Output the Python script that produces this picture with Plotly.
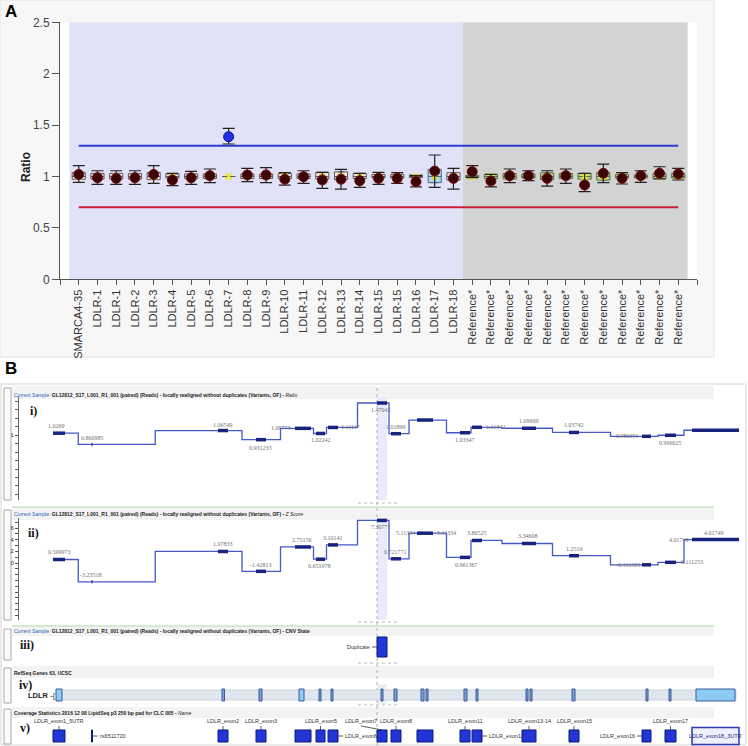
import plotly.graph_objects as go

W, H = 748, 746


def PX(x):
    return x / W


def PY(y):
    return 1 - y / H


# ---------------- Panel A data ----------------
sample_labels = ["SMARCA4-35", "LDLR-1", "LDLR-1", "LDLR-2", "LDLR-3", "LDLR-4", "LDLR-5",
                 "LDLR-6", "LDLR-7", "LDLR-8", "LDLR-9", "LDLR-10", "LDLR-11", "LDLR-12",
                 "LDLR-13", "LDLR-14", "LDLR-15", "LDLR-15", "LDLR-16", "LDLR-17", "LDLR-18"]
reference_labels = ["Reference*"] * 12
categories = sample_labels + reference_labels

ratio = [1.020, 0.988, 0.982, 0.988, 1.020, 0.966, 0.988, 1.008, 1.387, 1.015, 1.015,
         0.973, 0.998, 0.966, 0.973, 0.959, 0.982, 0.982, 0.950, 1.053, 0.982,
         1.047, 0.956, 1.008, 1.008, 0.982, 1.008, 0.917, 1.031, 0.982, 1.008, 1.031, 1.024]
ci_high = [1.105, 1.056, 1.056, 1.056, 1.105, 1.031, 1.050, 1.073, 1.469, 1.080, 1.086,
           1.037, 1.056, 1.040, 1.070, 1.031, 1.040, 1.037, 1.008, 1.209, 1.080,
           1.105, 1.021, 1.073, 1.056, 1.056, 1.073, 1.031, 1.121, 1.037, 1.056, 1.095, 1.080]
ci_low = [0.943, 0.924, 0.924, 0.924, 0.934, 0.911, 0.924, 0.940, 1.316, 0.950, 0.940,
          0.917, 0.934, 0.885, 0.878, 0.895, 0.924, 0.934, 0.900, 0.895, 0.878,
          0.990, 0.900, 0.940, 0.959, 0.907, 0.934, 0.852, 0.940, 0.927, 0.943, 0.976, 0.966]
box_q1 = [0.973, 0.975, 0.975, 0.975, 0.970, 0.985, 0.980, 0.980, 1.000, 0.980, 0.980,
          0.980, 0.980, 0.975, 0.970, 0.980, 0.985, 0.985, 0.990, 0.940, 0.965,
          0.990, 0.980, 0.975, 0.985, 0.970, 0.980, 0.975, 0.965, 0.985, 0.985, 0.980, 0.985]
box_q3 = [1.040, 1.030, 1.030, 1.030, 1.040, 1.025, 1.025, 1.025, 1.000, 1.025, 1.025,
          1.030, 1.025, 1.040, 1.045, 1.030, 1.020, 1.020, 1.015, 1.070, 1.037,
          1.010, 1.020, 1.030, 1.025, 1.035, 1.030, 1.030, 1.040, 1.020, 1.015, 1.030, 1.030]
box_median = [1.0] * 33
upper_threshold = 1.3
lower_threshold = 0.7
highlight_box = "LDLR-17"

y_ticks_A = [0, 0.5, 1, 1.5, 2, 2.5]
y_ticktext_A = ["0", "0.5", "1", "1.5", "2", "2.5"]

# ---------------- Panel B data (positions in relative genomic units) ----------------
target_names = ["LDLR_exon1_5UTR", "rs6511720", "LDLR_exon2", "LDLR_exon3", "",
                "LDLR_exon5", "LDLR_exon6", "LDLR_exon7", "LDLR_exon8", "",
                "LDLR_exon11", "LDLR_exon12", "LDLR_exon13-14", "LDLR_exon15",
                "LDLR_exon16", "LDLR_exon17", "LDLR_exon18_3UTR"]
target_start = [5.3, 9.15, 21.8, 25.6, 29.5, 31.6, 32.8, 37.7, 39.1, 41.7,
                46.0, 47.2, 52.2, 56.9, 64.2, 66.5, 69.2]
target_end = [6.5, 9.25, 22.8, 26.6, 31.1, 32.5, 33.8, 38.7, 40.1, 43.3,
              47.0, 48.2, 53.6, 57.9, 65.1, 67.6, 73.9]
seg_ratio = [1.0269, 0.860985, 1.06549, 0.931233, 1.09773, 1.02242, 1.11117, 1.47042,
             1.01899, 1.22, 1.03347, 1.11342, 1.09909, 1.03742, 0.980391, 0.996025, 1.07]
ratio_labelled = [True, True, True, True, True, True, True, True,
                  True, False, True, True, True, True, True, True, False]
seg_zscore = [0.599973, -3.23518, 1.97833, -1.42813, 2.75156, 0.651978, 3.10141, 7.30771,
              0.721771, 5.11334, 0.961367, 3.86525, 3.34608, 1.2519, -0.311383, 0.111253,
              4.01749]

cnv_state = ["Duplicate"]
cnv_start = [37.7]
cnv_end = [38.7]

gene_name = "LDLR"
gene_start = 5.7
gene_end = 73.6
exon_start = [5.6, 22.2, 25.9, 29.9, 31.9, 33.1, 38.1, 39.4, 42.1, 42.6,
              46.4, 47.6, 52.6, 53.0, 57.2, 64.6, 66.9, 69.6]
exon_end = [6.2, 22.45, 26.2, 30.4, 32.1, 33.3, 38.3, 39.7, 42.4, 42.8,
            46.7, 47.8, 52.8, 53.2, 57.5, 64.8, 67.1, 73.5]
exon_is_utr = [True, False, False, True, False, False, False, False, False, False,
               False, False, False, False, False, False, False, True]

ratio_ticks = [0.125 * k for k in range(1, 13)]
ratio_ticktext = ["1" if abs(t - 1) < 1e-9 else "" for t in ratio_ticks]
z_ticks = list(range(-9, 8))
z_ticktext = [str(t) if t in (0, 2, 4, 6) else "" for t in z_ticks]

header_i = ("Current Sample:", "GL12812_S17_L001_R1_001 (paired) (Reads) - locally realigned without duplicates (Variants, OF) - ", "Ratio")
header_ii = ("Current Sample:", "GL12812_S17_L001_R1_001 (paired) (Reads) - locally realigned without duplicates (Variants, OF) - ", "Z Score")
header_iii = ("Current Sample:", "GL12812_S17_L001_R1_001 (paired) (Reads) - locally realigned without duplicates (Variants, OF) - CNV State", "")
header_iv = ("", "RefSeq Genes 63, UCSC", "")
header_v = ("", "Coverage Statistics 2016 12 08 LipidSeq p3 250 bp pad for CLC 005 - ", "Name")

# ---------------- styles ----------------
NARROW = "Liberation Sans Narrow, Arial Narrow, Liberation Sans, sans-serif"
SERIF = "Liberation Serif, DejaVu Serif, serif"
SANS = "Liberation Sans, Arial, sans-serif"
STEP_COLOR = "#4658c8"
THICK_COLOR = "#18247e"
COV_FILL = "#2236d8"
COV_LINE = "#0c1a7a"

# label offsets in px (dx, dy with dy>0 meaning downward)
RATIO_LABEL_SHIFT = [(-3, -7), (0, -6), (0, -6), (-1, 8), (-22, 0), (0, 7), (17, 0), (-1, 7),
                     (0, -7), None, (0, 7), (18, 0), (0, -7), (0, -7), (-19, 0), (0, 8), None]
Z_LABEL_SHIFT = [[(0, -8)], [(-1, -7)], [(0, -7)], [(0, -6)], [(-1, -7)], [(-1, 7)], [(0, -7)],
                 [(-1, 7)], [(-1, -7)], [(-20, 0), (21, 0)], [(1, 8)], [(0, -7)], [(-1, -7)],
                 [(0, -7)], [(-19, 0)], [(21, 0)], [(-2, -7), (-37, 0)]]
COV_LABEL_MODE = ["above", "right", "above", "above", None, "above", "right", "above", "above",
                  None, "above", "right", "above", "above", "left", "above", "inside"]
COV_LABEL_DX = {"LDLR_exon7": -21}

fig = go.Figure()

# ================= Panel A =================
n = len(categories)
xs = list(range(n))
n_s = len(sample_labels)

groups = {
    "sample": ([i for i in range(n_s) if categories[i] != highlight_box], "#e6e7f0", "#5a5a5a"),
    "highlight": ([i for i in range(n_s) if categories[i] == highlight_box], "#aad6f2", "#4a6a8a"),
    "reference": (list(range(n_s, n)), "#bcd69c", "#4f6d45"),
}
for name, (idx, fill, line) in groups.items():
    fig.add_trace(go.Box(
        x=[xs[i] for i in idx], q1=[box_q1[i] for i in idx], median=[box_median[i] for i in idx],
        q3=[box_q3[i] for i in idx], lowerfence=[box_q1[i] for i in idx],
        upperfence=[box_q3[i] for i in idx], width=0.7, fillcolor=fill,
        line=dict(color=line, width=1), boxpoints=False, showlegend=False,
        hoverinfo="skip", xaxis="x", yaxis="y"))

fig.add_trace(go.Scatter(
    x=xs, y=box_median, mode="markers",
    marker=dict(symbol="x-thin", size=6, line=dict(color="#f2e41c", width=2)),
    showlegend=False, hoverinfo="skip", xaxis="x", yaxis="y"))

fig.add_trace(go.Scatter(x=[0, n - 1], y=[upper_threshold] * 2, mode="lines",
                         line=dict(color="#2b3bd0", width=2), showlegend=False,
                         hoverinfo="skip", xaxis="x", yaxis="y"))
fig.add_trace(go.Scatter(x=[0, n - 1], y=[lower_threshold] * 2, mode="lines",
                         line=dict(color="#c8203a", width=2), showlegend=False,
                         hoverinfo="skip", xaxis="x", yaxis="y"))

point_colors = ["#1f30e6" if r > upper_threshold else "#3a0505" for r in ratio]
point_lines = ["#1010a0" if r > upper_threshold else "#7a0b0b" for r in ratio]
fig.add_trace(go.Scatter(
    x=xs, y=ratio, mode="markers",
    marker=dict(size=10, color=point_colors, line=dict(color=point_lines, width=1)),
    error_y=dict(type="data", symmetric=False,
                 array=[h - r for h, r in zip(ci_high, ratio)],
                 arrayminus=[r - l for r, l in zip(ratio, ci_low)],
                 color="#222222", thickness=1.2, width=6),
    showlegend=False, hoverinfo="skip", xaxis="x", yaxis="y"))

# ================= Panel B traces =================
bounds = [(target_end[i] + target_start[i + 1]) / 2 for i in range(len(target_start) - 1)]
step_x = [target_start[0]] + bounds + [target_end[-1]]


def step_y(vals):
    return list(vals) + [vals[-1]]


def thick(vals):
    tx, ty = [], []
    for s, e, v in zip(target_start, target_end, vals):
        tx += [s, e, None]
        ty += [v, v, None]
    return tx, ty


for vals, ya in ((seg_ratio, "y2"), (seg_zscore, "y3")):
    fig.add_trace(go.Scatter(x=step_x, y=step_y(vals), mode="lines", line_shape="hv",
                             line=dict(color=STEP_COLOR, width=1.3), showlegend=False,
                             hoverinfo="skip", xaxis="x2", yaxis=ya))
    tx, ty = thick(vals)
    fig.add_trace(go.Scatter(x=tx, y=ty, mode="lines", line=dict(color=THICK_COLOR, width=3.5),
                             showlegend=False, hoverinfo="skip", xaxis="x2", yaxis=ya))

# CNV state bars
fig.add_trace(go.Bar(y=[0.5] * len(cnv_state), x=[e - s for s, e in zip(cnv_start, cnv_end)],
                     base=cnv_start, orientation="h", width=0.77,
                     marker=dict(color=COV_FILL, line=dict(color=COV_LINE, width=1)),
                     showlegend=False, hoverinfo="skip", xaxis="x2", yaxis="y4"))

# gene band + exons
fig.add_trace(go.Bar(y=[0.45], x=[gene_end - gene_start], base=[gene_start], orientation="h",
                     width=0.5, marker=dict(color="#e1e7ee", line=dict(color="#c2cbd6", width=0.8)),
                     showlegend=False, hoverinfo="skip", xaxis="x2", yaxis="y5"))
fig.add_trace(go.Bar(y=[0.45] * len(exon_start), x=[e - s for s, e in zip(exon_start, exon_end)],
                     base=exon_start, orientation="h", width=0.6,
                     marker=dict(color=["#8ccbf6" if u else "#7d9fd8" for u in exon_is_utr],
                                 line=dict(color="#3b5a94", width=1)),
                     showlegend=False, hoverinfo="skip", xaxis="x2", yaxis="y5"))

# coverage targets
sel = [m == "inside" for m in COV_LABEL_MODE]
fig.add_trace(go.Bar(y=[0.357] * len(target_start), x=[e - s for s, e in zip(target_start, target_end)],
                     base=target_start, orientation="h",
                     width=[0.6 if s_ else 0.43 for s_ in sel],
                     marker=dict(color=["#eef1fb" if s_ else COV_FILL for s_ in sel],
                                 line=dict(color=["#2a3ab0" if s_ else COV_LINE for s_ in sel],
                                           width=[1.5 if s_ else 1 for s_ in sel])),
                     showlegend=False, hoverinfo="skip", xaxis="x2", yaxis="y6"))

# ================= shapes =================
shapes = []


def prect(x0, y0, x1, y1, fill, line="rgba(0,0,0,0)", lw=1, layer="below"):
    shapes.append(dict(type="rect", xref="paper", yref="paper", x0=PX(x0), x1=PX(x1),
                       y0=PY(y1), y1=PY(y0), fillcolor=fill, line=dict(color=line, width=lw),
                       layer=layer))


def pline(x0, y0, x1, y1, color, lw=1, dash="solid"):
    shapes.append(dict(type="line", xref="paper", yref="paper", x0=PX(x0), x1=PX(x1),
                       y0=PY(y0), y1=PY(y1), line=dict(color=color, width=lw, dash=dash),
                       layer="below"))


# panel A frame and plot area
prect(0, 0, 714, 357, "#f7f7f7", "#e2e2e2")
shapes.append(dict(type="rect", xref="x domain", yref="y domain", x0=0, x1=1, y0=0, y1=1,
                   fillcolor="white", line=dict(width=0), layer="below"))
shapes.append(dict(type="rect", xref="x", yref="y domain", x0=-0.5, x1=n_s - 0.5, y0=0, y1=1,
                   fillcolor="#e1e1f8", line=dict(width=0), layer="below"))
shapes.append(dict(type="rect", xref="x", yref="y domain", x0=n_s - 0.5, x1=n - 0.5, y0=0, y1=1,
                   fillcolor="#d3d3d3", line=dict(width=0), layer="below"))

# panel B frame
prect(1, 384, 746, 745, "white", "#d4d4d4")
# header strips
for (y0, y1) in [(386, 399), (508, 520), (627, 636), (666, 678), (707, 718)]:
    prect(12, y0, 714, y1, "#f3f3f3")
# green selection frame of track ii
pline(12, 507, 714, 507, "#a8d8a0", 1.2)
pline(12, 626, 714, 626, "#a8d8a0", 1.2)
# left handles
for (y0, y1) in [(388, 500), (510, 620), (629, 660), (668, 703), (709, 744)]:
    prect(4, y0, 11, y1, "#fbfbfb", "#a8a8a8", 1)
# grips
for yy in [503, 622, 663, 705]:
    pline(358, yy, 398, yy, "#b8b8b8", 1, "dot")

# selected-target highlight
sel_name = "LDLR_exon7"
si = target_names.index(sel_name)
for ya in ("y2", "y3", "y5"):
    shapes.append(dict(type="rect", xref="x2", yref=f"{ya} domain", x0=target_start[si],
                       x1=target_end[si], y0=0, y1=1,
                       fillcolor="#e9ebfa" if ya != "y5" else "#eceff3",
                       line=dict(width=0), layer="below"))
shapes.append(dict(type="line", xref="x2", yref="paper", x0=target_start[si], x1=target_start[si],
                   y0=PY(745), y1=PY(386), line=dict(color="#b0b0b0", width=1, dash="dot"),
                   layer="below"))

# ================= annotations =================
ann = []

ann.append(dict(text="<b>A</b>", x=PX(3), y=PY(11), xref="paper", yref="paper", showarrow=False,
                xanchor="left", yanchor="middle", font=dict(family=SANS, size=17, color="black")))
ann.append(dict(text="<b>B</b>", x=PX(3), y=PY(368), xref="paper", yref="paper", showarrow=False,
                xanchor="left", yanchor="middle", font=dict(family=SANS, size=17, color="black")))
ann.append(dict(text="<b>Ratio</b>", x=PX(17), y=PY(150), xref="paper", yref="paper",
                showarrow=False, textangle=-90, font=dict(family=SANS, size=12, color="#222")))

# headers
for (blue, black, ital), yy in [(header_i, 395), (header_ii, 514), (header_iii, 631),
                                (header_iv, 673), (header_v, 713)]:
    t = ""
    if blue:
        t += f"<span style='color:#2a5db8'>{blue}</span> "
    t += f"<b>{black}</b>"
    if ital:
        t += f"<i>{ital}</i>"
    ann.append(dict(text=t, x=PX(12), y=PY(yy), xref="paper", yref="paper", showarrow=False,
                    xanchor="left", yanchor="middle", font=dict(family=NARROW, size=5, color="#222")))

for txt, xx, yy in [("i)", 28, 411), ("ii)", 26, 533), ("iii)", 18, 645), ("iv)", 17, 685), ("v)", 18, 728)]:
    ann.append(dict(text=f"<b>{txt}</b>", x=PX(xx), y=PY(yy), xref="paper", yref="paper",
                    showarrow=False, xanchor="left", yanchor="middle",
                    font=dict(family=SERIF, size=12, color="#111")))

# gene name
ann.append(dict(text=f"<b>{gene_name}</b> -{{", x=gene_start, y=0.45, xref="x2", yref="y5",
                showarrow=False, xanchor="right", yanchor="middle", xshift=1,
                font=dict(family=NARROW, size=7.5, color="#222")))

# ratio labels
centers = [(s + e) / 2 for s, e in zip(target_start, target_end)]
for i, v in enumerate(seg_ratio):
    sh = RATIO_LABEL_SHIFT[i]
    if not ratio_labelled[i] or sh is None:
        continue
    ann.append(dict(text=str(v), x=centers[i], y=v, xref="x2", yref="y2", showarrow=False,
                    xshift=sh[0], yshift=-sh[1], font=dict(family=SERIF, size=6, color="#707070")))
# z labels
for i, v in enumerate(seg_zscore):
    for sh in Z_LABEL_SHIFT[i]:
        ann.append(dict(text=str(v), x=centers[i], y=v, xref="x2", yref="y3", showarrow=False,
                        xshift=sh[0], yshift=-sh[1], font=dict(family=SERIF, size=6, color="#707070")))

# CNV label
for name, s, e in zip(cnv_state, cnv_start, cnv_end):
    ann.append(dict(text=name, x=s, y=0.5, xref="x2", yref="y4", showarrow=True, arrowhead=0,
                    arrowwidth=0.8, arrowcolor="#333", ax=-5, ay=0, xanchor="right",
                    font=dict(family=NARROW, size=5.5, color="#333")))

# coverage labels
cov_top = 0.357 + 0.43 / 2
for name, s, e, c, mode in zip(target_names, target_start, target_end, centers, COV_LABEL_MODE):
    font = dict(family=NARROW, size=5.5, color="#333")
    if mode == "above":
        ann.append(dict(text=name, x=c, y=cov_top, xref="x2", yref="y6", showarrow=True,
                        arrowhead=0, arrowwidth=0.8, arrowcolor="#333",
                        ax=COV_LABEL_DX.get(name, 0), ay=-4, yanchor="bottom", font=font))
    elif mode == "right":
        ann.append(dict(text=name, x=e, y=0.357, xref="x2", yref="y6", showarrow=True,
                        arrowhead=0, arrowwidth=0.8, arrowcolor="#333", ax=5, ay=0,
                        xanchor="left", font=font))
    elif mode == "left":
        ann.append(dict(text=name, x=s, y=0.357, xref="x2", yref="y6", showarrow=True,
                        arrowhead=0, arrowwidth=0.8, arrowcolor="#333", ax=-5, ay=0,
                        xanchor="right", font=font))
    elif mode == "inside":
        ann.append(dict(text=name, x=c, y=0.357, xref="x2", yref="y6", showarrow=False,
                        font=dict(family=NARROW, size=5.5, color="#1a2a80")))

# ================= layout =================
ticktext_A = [""] + categories + [""]
fig.update_layout(
    width=W, height=H, autosize=False,
    margin=dict(l=0, r=0, t=0, b=0, pad=0),
    paper_bgcolor="white", plot_bgcolor="rgba(0,0,0,0)",
    barmode="overlay", boxmode="overlay",
    shapes=shapes, annotations=ann,
    xaxis=dict(domain=[PX(60), PX(697)], range=[-1, n], tickmode="array",
               tickvals=list(range(-1, n + 1)), ticktext=ticktext_A, tickangle=-90,
               ticks="outside", ticklen=5, tickcolor="#555", showline=True, linecolor="#555",
               linewidth=1, showgrid=False, zeroline=False, anchor="y", automargin=False,
               tickfont=dict(family=SANS, size=11, color="#333")),
    yaxis=dict(domain=[PY(279.3), PY(22.3)], range=[0, 2.5], tickmode="array",
               tickvals=y_ticks_A, ticktext=y_ticktext_A, ticks="outside", ticklen=7,
               tickcolor="#555", showline=True, linecolor="#555", linewidth=1,
               showgrid=False, zeroline=False, anchor="x", automargin=False,
               tickfont=dict(family=SANS, size=12, color="#444")),
    xaxis2=dict(domain=[0, 1], range=[0, 74.8], visible=False, anchor="y2", automargin=False),
    yaxis2=dict(domain=[PY(500), PY(397)], range=[0.044, 1.559], anchor="free", position=PX(18),
                tickmode="array", tickvals=ratio_ticks, ticktext=ratio_ticktext, ticks="outside",
                ticklen=3, tickcolor="#555", showline=True, linecolor="#666", linewidth=1,
                showgrid=False, zeroline=False, automargin=False,
                tickfont=dict(family=SANS, size=6, color="#333")),
    yaxis3=dict(domain=[PY(620), PY(518)], range=[-9.78, 7.72], anchor="free", position=PX(18),
                tickmode="array", tickvals=z_ticks, ticktext=z_ticktext, ticks="outside",
                ticklen=3, tickcolor="#555", showline=True, linecolor="#666", linewidth=1,
                showgrid=False, zeroline=False, automargin=False,
                tickfont=dict(family=SANS, size=6, color="#333")),
    yaxis4=dict(domain=[PY(660), PY(634)], range=[0, 1], visible=False, anchor="x2", automargin=False),
    yaxis5=dict(domain=[PY(704), PY(684)], range=[0, 1], visible=False, anchor="x2", automargin=False),
    yaxis6=dict(domain=[PY(746), PY(718)], range=[0, 1], visible=False, anchor="x2", automargin=False),
)

fig.write_html("out.html", config={"displayModeBar": False},
               post_script="document.body.style.margin='0';document.body.style.padding='0';")
